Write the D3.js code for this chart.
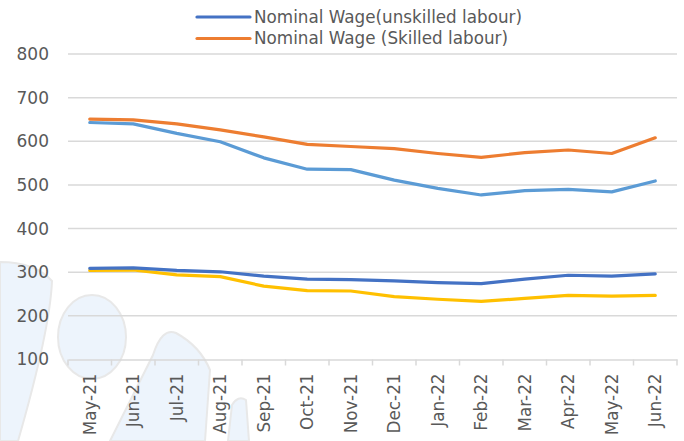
<!DOCTYPE html>
<html>
<head>
<meta charset="utf-8">
<script src="https://cdn.jsdelivr.net/npm/d3@7"></script>
<style>
  html, body { margin: 0; padding: 0; background: #fff; }
  svg { display: block; }
  text { font-family: "DejaVu Sans", sans-serif; fill: #595959; }
</style>
</head>
<body>
<div id="chart"></div>
<script>
const categories = ["May-21","Jun-21","Jul-21","Aug-21","Sep-21","Oct-21","Nov-21","Dec-21","Jan-22","Feb-22","Mar-22","Apr-22","May-22","Jun-22"];
const nominalUnskilled = [309, 310, 304, 301, 291, 284, 283, 280, 276, 274, 284, 293, 291, 296];
const nominalSkilled   = [651, 649, 640, 626, 610, 593, 588, 583, 572, 563, 574, 580, 572, 608];
const realSkilled      = [643, 640, 618, 599, 562, 536, 535, 511, 492, 477, 487, 490, 484, 509];
const realUnskilled    = [304, 305, 294, 290, 268, 258, 257, 244, 238, 233, 240, 247, 245, 247];
const yTicks = [100, 200, 300, 400, 500, 600, 700, 800];

const seriesNames  = ["Real Wage (Skilled labour)", "Nominal Wage (Skilled labour)", "Real Wage (unskilled labour)", "Nominal Wage(unskilled labour)"];
const seriesValues = [realSkilled, nominalSkilled, realUnskilled, nominalUnskilled];
const seriesColors = ["#5B9BD5", "#ED7D31", "#FFC000", "#4472C4"];
const legendNames  = ["Nominal Wage(unskilled labour)", "Nominal Wage (Skilled labour)"];
const legendColors = ["#4472C4", "#ED7D31"];

const W = 684, H = 441;
const svg = d3.select("#chart").append("svg").attr("width", W).attr("height", H);

// faint watermark in the background
const wm = svg.append("g").attr("fill", "#EDF4FC").attr("stroke", "#E8E8E8").attr("stroke-width", 2);
wm.append("path").attr("d", "M0,262 Q35,262 52,281 Q50,330 18,441 L0,441 Z");
wm.append("ellipse").attr("cx", 92).attr("cy", 337).attr("rx", 34).attr("ry", 42);
wm.append("path").attr("d", "M110,441 L153,355 Q162,327 176,333 Q200,346 210,370 L205,441 Z");
wm.append("path").attr("d", "M228,441 L232,405 Q238,395 246,400 L249,441 Z");

const x = d3.scaleBand().domain(categories).range([68, 677]).padding(0);
const y = d3.scaleLinear().domain([100, 800]).range([359.5, 54]);

// gridlines
svg.append("g").selectAll("line").data(yTicks.filter(t => t > 100)).join("line")
  .attr("x1", 68).attr("x2", 677)
  .attr("y1", d => y(d)).attr("y2", d => y(d))
  .attr("stroke", "#D9D9D9").attr("stroke-width", 1.5);

// y axis labels
const yAxis = d3.axisLeft(y).tickValues(yTicks).tickSize(0).tickPadding(0);
const yg = svg.append("g").attr("transform", "translate(49,0)").call(yAxis);
yg.select(".domain").remove();
yg.selectAll("text").attr("font-size", "17px").attr("fill", "#595959")
  .attr("font-family", "DejaVu Sans, sans-serif");

// x axis
const xAxis = d3.axisBottom(x).tickSize(0).tickPadding(0);
const xg = svg.append("g").attr("transform", `translate(0,${y(100)})`).call(xAxis);
xg.select(".domain").attr("stroke", "#D9D9D9").attr("stroke-width", 1.5);
xg.selectAll("text")
  .attr("font-size", "16.8px").attr("fill", "#595959")
  .attr("font-family", "DejaVu Sans, sans-serif")
  .attr("text-anchor", "end")
  .attr("dy", "0.35em")
  .attr("transform", "translate(0,14) rotate(-90)");
// tick marks at category boundaries
const bounds = categories.map(c => x(c)).concat([x.range()[1]]);
xg.append("g").selectAll("line").data(bounds).join("line")
  .attr("x1", d => d).attr("x2", d => d).attr("y1", 0).attr("y2", 6)
  .attr("stroke", "#D9D9D9").attr("stroke-width", 1.5);

// lines
const line = d3.line()
  .x((d, i) => x(categories[i]) + x.bandwidth() / 2)
  .y(d => y(d));
svg.append("g").selectAll("path").data(seriesValues).join("path")
  .attr("d", d => line(d))
  .attr("fill", "none")
  .attr("stroke", (d, i) => seriesColors[i])
  .attr("stroke-width", 3.2)
  .attr("stroke-linejoin", "round")
  .attr("stroke-linecap", "round");

// legend
const lg = svg.append("g");
legendNames.forEach((name, i) => {
  const yy = 17 + i * 21.5;
  lg.append("line").attr("x1", 197).attr("x2", 250).attr("y1", yy).attr("y2", yy)
    .attr("stroke", legendColors[i]).attr("stroke-width", 3.2).attr("stroke-linecap", "round");
  lg.append("text").attr("x", 254).attr("y", yy).attr("dy", "0.35em")
    .attr("font-size", "16.8px").attr("fill", "#595959").text(name);
});
</script>
</body>
</html>
